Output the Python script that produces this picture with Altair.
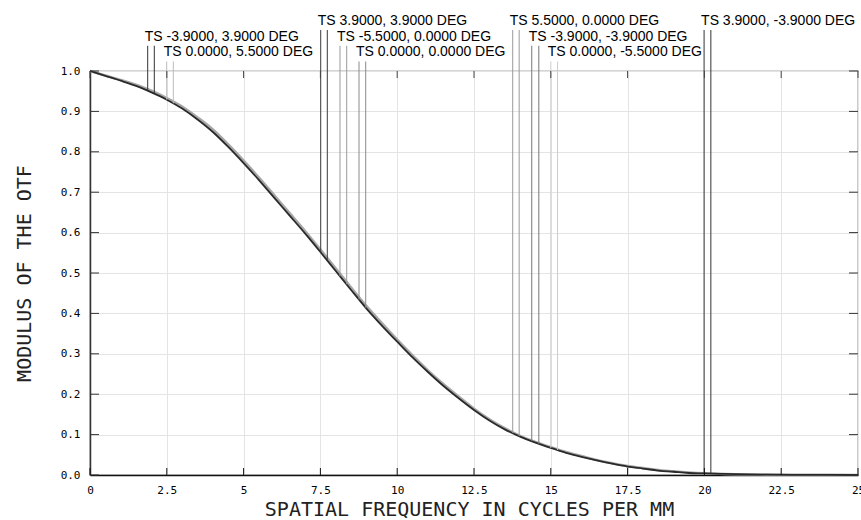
import altair as alt
import pandas as pd

# ---------------- data ----------------
freq = [0, 0.5, 1, 1.5, 2, 2.5, 3, 3.5, 4, 4.5, 5, 5.5, 6, 6.5, 7, 7.5, 8, 8.5,
        9, 9.5, 10, 10.5, 11, 11.5, 12, 12.5, 13, 13.5, 14, 14.5, 15, 15.5, 16,
        16.5, 17, 17.5, 18, 18.5, 19, 19.5, 20, 20.5, 21, 22, 23, 24, 25]
mtf_dark = [1.0, 0.988, 0.976, 0.963, 0.947, 0.929, 0.907, 0.880, 0.849, 0.812,
            0.772, 0.730, 0.686, 0.642, 0.598, 0.552, 0.505, 0.458, 0.412, 0.370,
            0.330, 0.291, 0.255, 0.221, 0.190, 0.161, 0.135, 0.113, 0.095, 0.080,
            0.067, 0.055, 0.045, 0.036, 0.028, 0.021, 0.016, 0.011, 0.008, 0.005,
            0.004, 0.003, 0.002, 0.001, 0.0005, 0.0002, 0.0]
mtf_gray = [1.0, 0.989, 0.978, 0.966, 0.951, 0.933, 0.912, 0.885, 0.855, 0.818,
            0.778, 0.736, 0.692, 0.648, 0.604, 0.558, 0.511, 0.464, 0.418, 0.376,
            0.335, 0.296, 0.259, 0.225, 0.194, 0.164, 0.138, 0.116, 0.097, 0.082,
            0.069, 0.057, 0.047, 0.037, 0.029, 0.022, 0.017, 0.012, 0.009, 0.006,
            0.004, 0.003, 0.002, 0.001, 0.0005, 0.0002, 0.0]

field_labels = ["TS -3.9000, 3.9000 DEG", "TS 0.0000, 5.5000 DEG",
                "TS 3.9000, 3.9000 DEG", "TS -5.5000, 0.0000 DEG",
                "TS 0.0000, 0.0000 DEG", "TS 5.5000, 0.0000 DEG",
                "TS -3.9000, -3.9000 DEG", "TS 0.0000, -5.5000 DEG",
                "TS 3.9000, -3.9000 DEG"]
label_row = [2, 3, 1, 2, 3, 1, 2, 3, 1]
t_freq = [1.878, 2.497, 7.510, 8.138, 8.757, 13.76, 14.38, 15.00, 19.99]
s_freq = [2.093, 2.712, 7.725, 8.356, 8.975, 13.97, 14.61, 15.22, 20.21]
t_mtf = [0.952, 0.929, 0.551, 0.492, 0.434, 0.104, 0.084, 0.067, 0.004]
s_mtf = [0.944, 0.920, 0.531, 0.472, 0.414, 0.096, 0.077, 0.062, 0.0036]

x_ticks = [0, 2.5, 5, 7.5, 10, 12.5, 15, 17.5, 20, 22.5, 25]
y_ticks = [0.0, 0.1, 0.2, 0.3, 0.4, 0.5, 0.6, 0.7, 0.8, 0.9, 1.0]

# ---------------- styling / layout ----------------
W, H = 768, 404
line_colors = ["#333333", "#bbbbbb", "#3a3a3a", "#9a9a9a", "#8a8a8a",
               "#9a9a9a", "#777777", "#cccccc", "#333333"]
row_level = {1: 1.114, 2: 1.075, 3: 1.036}   # label baselines (above the plot)
line_gap = 0.0125
label_font = "Liberation Sans"
tick_font = "DejaVu Sans Mono"
title_font = "DejaVu Sans Mono"

xscale = alt.Scale(domain=[0, 25], nice=False, zero=False)
yscale = alt.Scale(domain=[0, 1], nice=False, zero=False)

x_axis = alt.Axis(values=x_ticks, format=".1~f", grid=True, gridColor="#e4e4e4",
                  ticks=False, tickSize=0, domainColor="#111111", domainWidth=1.5,
                  labelFont=tick_font, labelFontSize=11, labelColor="#000000",
                  labelPadding=9, labelFlush=False,
                  title="SPATIAL FREQUENCY IN CYCLES PER MM",
                  titleFont=title_font, titleFontSize=20, titleFontWeight="normal",
                  titleColor="#222222", titleX=379, titleY=34,
                  titleAlign="center", titleBaseline="middle")
y_axis = alt.Axis(values=y_ticks, format=".1f", grid=True, gridColor="#e4e4e4",
                  ticks=False, tickSize=0, domainColor="#333333", domainWidth=1.5,
                  labelFont=tick_font, labelFontSize=11, labelColor="#000000",
                  labelPadding=10, labelFlush=False,
                  title="MODULUS OF THE OTF",
                  titleFont=title_font, titleFontSize=20, titleFontWeight="normal",
                  titleColor="#222222", titleX=-66, titleY=H / 2,
                  titleAngle=270, titleAlign="center", titleBaseline="middle")

curve_df = pd.DataFrame({
    "f": freq * 2,
    "m": mtf_gray + mtf_dark,
    "s": ["gray"] * len(freq) + ["dark"] * len(freq),
})

rules_rows = []
text_rows = []
for i, lab in enumerate(field_labels):
    lvl = row_level[label_row[i]]
    for fx, fy in ((t_freq[i], t_mtf[i]), (s_freq[i], s_mtf[i])):
        rules_rows.append({"f": fx, "m": lvl - line_gap, "end": fy,
                           "c": line_colors[i]})
    text_rows.append({"f": t_freq[i], "m": lvl, "label": lab})
rules_df = pd.DataFrame(rules_rows)
text_df = pd.DataFrame(text_rows)

X = alt.X("f:Q", scale=xscale, axis=x_axis)
Y = alt.Y("m:Q", scale=yscale, axis=y_axis)

curves = alt.Chart(curve_df).mark_line(interpolate="monotone").encode(
    x=X, y=Y,
    detail="s:N",
    color=alt.Color("s:N", scale=alt.Scale(domain=["gray", "dark"],
                                           range=["#a8a8a8", "#2a2a2a"]),
                    legend=None),
    strokeWidth=alt.StrokeWidth("s:N", scale=alt.Scale(domain=["gray", "dark"],
                                                       range=[2.6, 1.8]),
                                legend=None),
    order=alt.Order("f:Q"),
)

leg_rules = alt.Chart(rules_df).mark_rule(strokeWidth=1).encode(
    x=X, y=Y, y2="end:Q",
    color=alt.Color("c:N", scale=None),
)

leg_text = alt.Chart(text_df).mark_text(
    align="left", baseline="alphabetic", dx=-3, font=label_font, fontSize=14,
    color="#000000").encode(x=X, y=Y, text="label:N")

tick_df_x = pd.DataFrame({"f": x_ticks})
tick_df_y = pd.DataFrame({"m": y_ticks})
bottom_ticks = alt.Chart(tick_df_x).mark_rule(color="#111111").encode(
    x=X, y=alt.value(H), y2=alt.value(H - 7))
top_ticks = alt.Chart(tick_df_x).mark_rule(color="#444444").encode(
    x=X, y=alt.value(0), y2=alt.value(7))
left_ticks = alt.Chart(tick_df_y).mark_rule(color="#333333").encode(
    y=Y, x=alt.value(0), x2=alt.value(9))
right_ticks = alt.Chart(tick_df_y).mark_rule(color="#333333").encode(
    y=Y, x=alt.value(W), x2=alt.value(W - 9))

chart = alt.layer(curves, leg_rules, leg_text, bottom_ticks, top_ticks,
                  left_ticks, right_ticks).properties(
    width=W, height=H,
    autosize=alt.AutoSizeParams(type="none"),
    padding={"left": 90, "top": 71, "right": 3, "bottom": 45},
    background="#ffffff",
).configure_view(stroke="#555555", strokeWidth=1.2)

chart.save("out.html", embed_options={"renderer": "svg", "actions": False})
